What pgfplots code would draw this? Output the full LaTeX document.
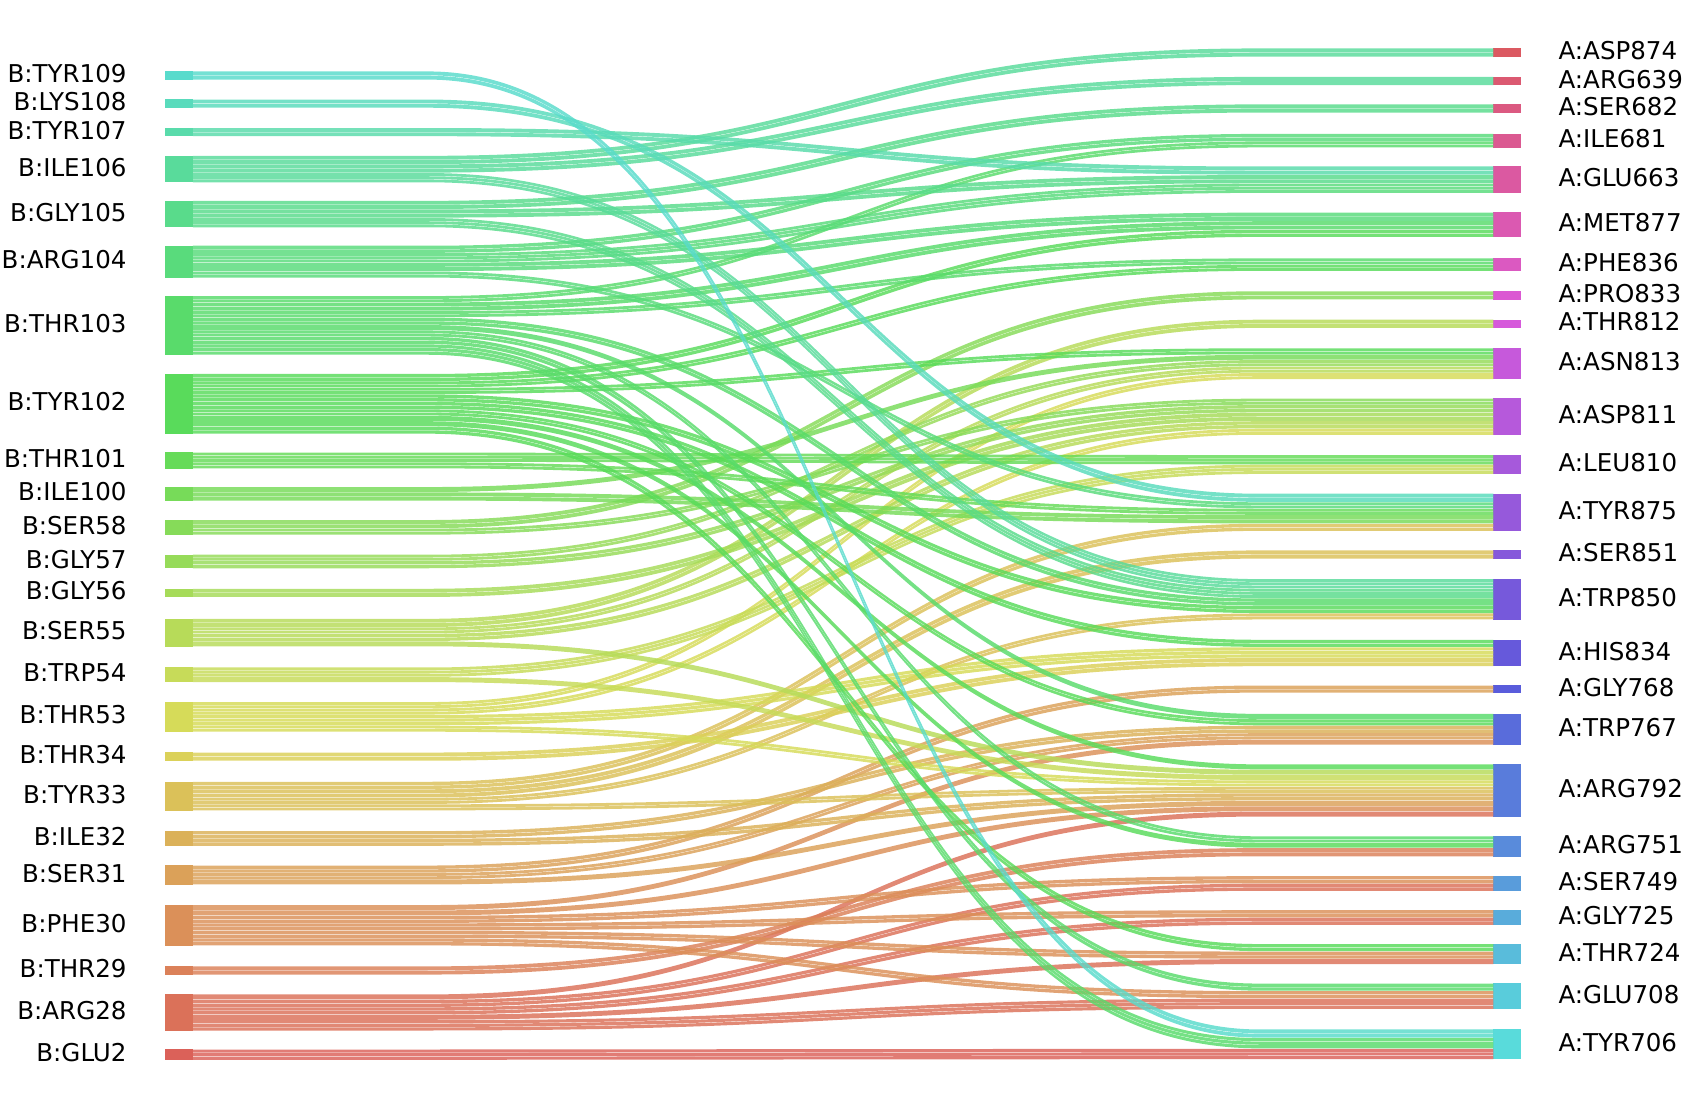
\documentclass[border=0pt]{standalone}
\usepackage{pgfplots}
\pgfplotsset{compat=1.18}
\usepackage{pgfplotstable}
\usepackage{fontspec}
\setmainfont{DejaVu Sans}
\newcommand\labelfont{\fontsize{6.5}{7.8}\selectfont}
\newcommand\appendto[2]{\xdef#1{\unexpanded\expandafter{#1}\unexpanded\expandafter{#2}}}
% seaborn "hls" palette, 49 labels (h=.01, l=.6, s=.65) -> hsb -> rgb
\newcount\ci
\ci=0
\loop
  \pgfmathsetmacro\hh{\the\ci/49+0.01}%
  \edef\tmpspec{\hh,0.6047,0.86}%
  \convertcolorspec{hsb}{\tmpspec}{rgb}\rgbspec
  \edef\tmpdef{\noexpand\definecolor{pal\the\ci}{rgb}{\rgbspec}}\tmpdef
  \advance\ci by 1
\ifnum\ci<49 \repeat
% links: source (left, bottom=0) target (right, bottom=0) width
\pgfplotstableread{
s t w
0 0 10
1 1 10
1 2 5
1 3 7
1 4 7
1 6 5
2 5 8
3 1 7
3 2 7
3 3 7
3 4 7
3 6 5
3 7 5
4 6 5
4 7 6
4 8 7
5 6 7
5 7 7
6 6 6
6 10 6
6 11 8
6 12 7
7 9 8
8 6 6
8 9 10
8 14 6
8 15 6
9 6 5
9 13 9
10 6 5
10 14 7
10 15 6
10 16 8
11 14 8
12 14 7
12 15 6
13 14 6
13 17 8
14 12 8
14 15 5
15 12 6
15 13 9
16 2 7
16 5 5
16 6 5
16 7 6
16 9 7
16 10 7
16 15 6
16 18 6
16 19 7
17 0 10
17 1 7
17 5 6
17 7 5
17 10 7
17 18 6
17 19 8
17 21 6
18 12 6
18 19 8
18 20 9
18 21 7
19 10 9
19 20 8
19 22 8
20 10 9
20 23 8
20 24 8
21 20 8
22 12 8
23 0 8
}\links
\pgfplotstableread{
name c
B:GLU2 982
B:ARG28 942.7
B:THR29 903.6
B:PHE30 861.5
B:SER31 814.7
B:ILE32 780.7
B:TYR33 741.2
B:THR34 704.5
B:THR53 667.5
B:TRP54 628.3
B:SER55 589
B:GLY56 552
B:GLY57 522.8
B:SER58 491
B:ILE100 459.8
B:THR101 428.8
B:TYR102 376
B:THR103 303
B:ARG104 243.6
B:GLY105 199.3
B:ILE106 157.4
B:TYR107 123
B:LYS108 96.5
B:TYR109 70.3
}\leftnodes
\pgfplotstableread{
name c
A:TYR706 972.3
A:GLU708 927.6
A:THR724 888.3
A:GLY725 854.3
A:SER749 822.6
A:ARG751 788
A:ARG792 736
A:TRP767 679
A:GLY768 641.6
A:HIS834 608
A:TRP850 558
A:SER851 516.3
A:TYR875 477
A:LEU810 432.5
A:ASP811 388
A:ASN813 338.6
A:THR812 301.5
A:PRO833 275
A:PHE836 246.4
A:MET877 209.3
A:GLU663 167.3
A:ILE681 131
A:SER682 101
A:ARG639 75.4
A:ASP874 48.9
}\rightnodes
% ---- node heights from the links
\newcount\rr
\rr=0
\loop
  \expandafter\gdef\csname hL\the\rr\endcsname{0}%
  \expandafter\gdef\csname hR\the\rr\endcsname{0}%
  \advance\rr by 1
\ifnum\rr<25 \repeat
\pgfplotstablegetrowsof{\links}\xdef\nlinks{\pgfplotsretval}
\rr=0
\loop
  \pgfplotstablegetelem{\the\rr}{s}\of\links\xdef\lnkS{\pgfplotsretval}%
  \pgfplotstablegetelem{\the\rr}{t}\of\links\xdef\lnkT{\pgfplotsretval}%
  \pgfplotstablegetelem{\the\rr}{w}\of\links\xdef\lnkW{\pgfplotsretval}%
  \pgfmathsetmacro\tmp{\csname hL\lnkS\endcsname+\lnkW}\expandafter\xdef\csname hL\lnkS\endcsname{\tmp}%
  \pgfmathsetmacro\tmp{\csname hR\lnkT\endcsname+\lnkW}\expandafter\xdef\csname hR\lnkT\endcsname{\tmp}%
  \advance\rr by 1
\ifnum\rr<\nlinks\relax\repeat
% ---- node bars and labels
\gdef\nodecmds{}
\gdef\linkcmds{}
\rr=0
\loop
  \pgfplotstablegetelem{\the\rr}{c}\of\leftnodes\xdef\nc{\pgfplotsretval}%
  \pgfplotstablegetelem{\the\rr}{name}\of\leftnodes\xdef\nn{\pgfplotsretval}%
  \edef\hcur{\csname hL\the\rr\endcsname}%
  \pgfmathsetmacro\bb{1032-\nc-0.5*\hcur}%
  \pgfmathsetmacro\ttop{\bb+\hcur}%
  \pgfmathsetmacro\yc{1032-\nc}%
  \expandafter\xdef\csname oL\the\rr\endcsname{\bb}%
  \edef\tmpcmd{\noexpand\addplot[fill=pal\the\rr,draw=none,opacity=0.99] coordinates {(153.5,\bb) (180,\bb) (180,\ttop) (153.5,\ttop)};%
    \noexpand\node[anchor=east,inner sep=0pt,yshift=0.5pt,font=\noexpand\labelfont] at (axis cs:118.5,\yc) {\nn};}%
  \appendto\nodecmds\tmpcmd
  \advance\rr by 1
\ifnum\rr<24 \repeat
\rr=0
\loop
  \pgfplotstablegetelem{\the\rr}{c}\of\rightnodes\xdef\nc{\pgfplotsretval}%
  \pgfplotstablegetelem{\the\rr}{name}\of\rightnodes\xdef\nn{\pgfplotsretval}%
  \edef\hcur{\csname hR\the\rr\endcsname}%
  \pgfmathsetmacro\bb{1032-\nc-0.5*\hcur}%
  \pgfmathsetmacro\ttop{\bb+\hcur}%
  \pgfmathsetmacro\yc{1032-\nc}%
  \pgfmathtruncatemacro\pidx{\the\rr+24}%
  \expandafter\xdef\csname oR\the\rr\endcsname{\bb}%
  \edef\tmpcmd{\noexpand\addplot[fill=pal\pidx,draw=none,opacity=0.99] coordinates {(1390,\bb) (1416,\bb) (1416,\ttop) (1390,\ttop)};%
    \noexpand\node[anchor=west,inner sep=0pt,yshift=0.5pt,font=\noexpand\labelfont] at (axis cs:1450.5,\yc) {\nn};}%
  \appendto\nodecmds\tmpcmd
  \advance\rr by 1
\ifnum\rr<25 \repeat
% ---- link strips (stacked in pySankey order)
\rr=0
\loop
  \pgfplotstablegetelem{\the\rr}{s}\of\links\xdef\lnkS{\pgfplotsretval}%
  \pgfplotstablegetelem{\the\rr}{t}\of\links\xdef\lnkT{\pgfplotsretval}%
  \pgfplotstablegetelem{\the\rr}{w}\of\links\xdef\lnkW{\pgfplotsretval}%
  \edef\ysb{\csname oL\lnkS\endcsname}%
  \edef\ytb{\csname oR\lnkT\endcsname}%
  \pgfmathtruncatemacro\nsub{max(1,round(\lnkW/3.5))}%
  \pgfmathsetmacro\dw{\lnkW/\nsub}%
  \foreach \k in {1,...,\nsub}{%
    \pgfmathsetmacro\pA{\ysb+(\k-1)*\dw+0.2}%
    \pgfmathsetmacro\pC{\ysb+\k*\dw-0.2}%
    \pgfmathsetmacro\pB{\ytb+(\k-1)*\dw+0.2}%
    \pgfmathsetmacro\pD{\ytb+\k*\dw-0.2}%
    \edef\tmpcmd{\noexpand\fill[pal\lnkS,opacity=0.82] (axis cs:179.5,\pA) -- (axis cs:398,\pA) .. controls (axis cs:785,\pA) and (axis cs:785,\pB) .. (axis cs:1172,\pB) -- (axis cs:1390.5,\pB) -- (axis cs:1390.5,\pD) -- (axis cs:1172,\pD) .. controls (axis cs:785,\pD) and (axis cs:785,\pC) .. (axis cs:398,\pC) -- (axis cs:179.5,\pC) -- cycle;}%
    \appendto\linkcmds\tmpcmd
  }%
  \pgfmathsetmacro\tmp{\ysb+\lnkW}\expandafter\xdef\csname oL\lnkS\endcsname{\tmp}%
  \pgfmathsetmacro\tmp{\ytb+\lnkW}\expandafter\xdef\csname oR\lnkT\endcsname{\tmp}%
  \advance\rr by 1
\ifnum\rr<\nlinks\relax\repeat
\begin{document}
\begin{tikzpicture}
\begin{axis}[at={(0,0)}, anchor=south west, scale only axis,
  width=15.68cm, height=10.32cm,
  xmin=0, xmax=1568, ymin=0, ymax=1032,
  hide axis, clip=false]
\nodecmds
\linkcmds
\end{axis}
\pgfresetboundingbox
\path (0,0) rectangle (15.68cm,10.32cm);
\end{tikzpicture}
\end{document}
